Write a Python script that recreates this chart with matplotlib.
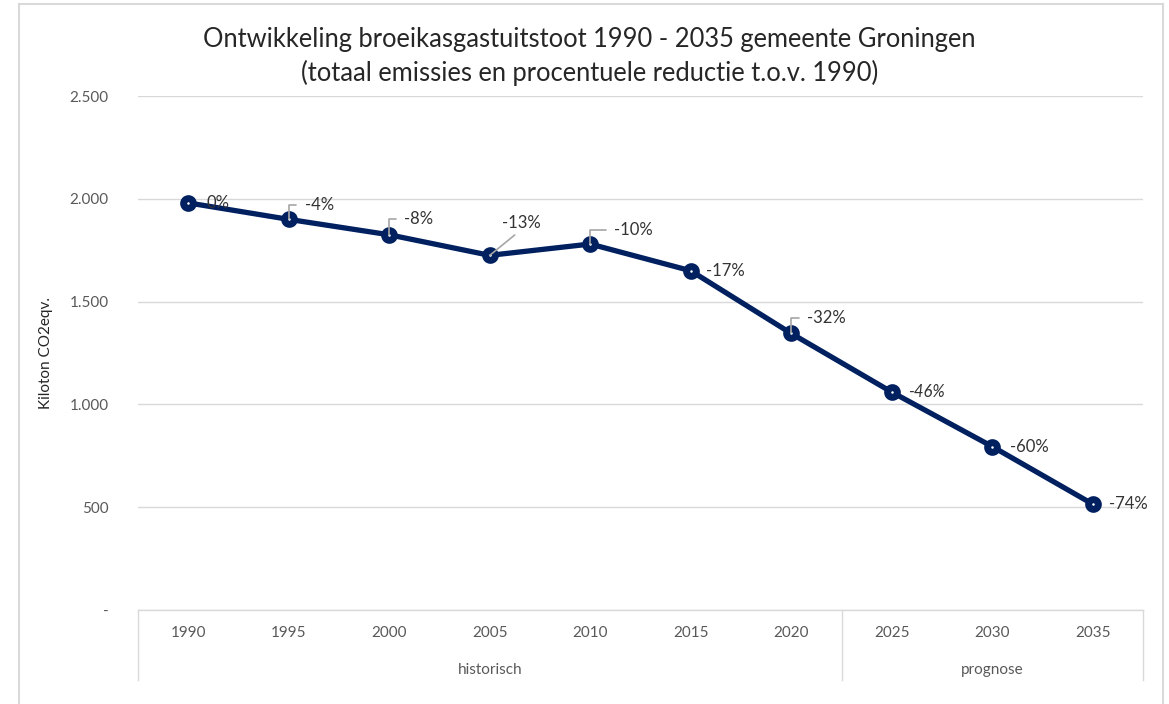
import numpy as np
import matplotlib.pyplot as plt
from matplotlib.lines import Line2D

plt.rcParams['font.family'] = ['Lato', 'DejaVu Sans']
plt.rcParams['font.size'] = 11

# data
years = ["1990", "1995", "2000", "2005", "2010", "2015", "2020", "2025", "2030", "2035"]
emissions = [1980, 1900, 1825, 1725, 1780, 1650, 1345, 1060, 795, 515]
labels = ["0%", "-4%", "-8%", "-13%", "-10%", "-17%", "-32%", "-46%", "-60%", "-74%"]
groups = ["historisch", "prognose"]
group_sizes = [7, 3]
yticks = [0, 500, 1000, 1500, 2000, 2500]
ytick_labels = ["-", "500", "1.000", "1.500", "2.000", "2.500"]

navy = "#002060"
grid = "#D9D9D9"
txt = "#595959"

fig = plt.figure(figsize=(11.69, 7.04), dpi=100)
ax = fig.add_axes([138/1169, 1 - 610/704, (1143-138)/1169, (610-96)/704])

x = np.arange(len(years))
ax.plot(x, emissions, color=navy, lw=3.8, marker='o', ms=7, mew=5,
        mfc='white', mec=navy, zorder=3, solid_joinstyle='round')

ax.set_xlim(-0.5, len(years) - 0.5)
ax.set_ylim(0, 2500)
ax.set_yticks(yticks)
ax.set_yticklabels(ytick_labels, color=txt, fontsize=11)
ax.tick_params(axis='y', length=0, pad=21)
ax.set_xticks([])
ax.grid(axis='y', color=grid, lw=1)
ax.set_axisbelow(True)
for s in ['top', 'right', 'left']:
    ax.spines[s].set_visible(False)
ax.spines['bottom'].set_color(grid)
ax.spines['bottom'].set_linewidth(1)
ax.set_ylabel("Kiloton CO2eqv.", fontsize=11, color="#262626", labelpad=12)

# data labels (offsets in pixels, some with leader lines)
offsets = [(18, 0), (16, 14), (15, 16), (12, 32), (24, 14), (15, 0), (16, 15), (16, 0), (18, 0), (16, 0)]
leaders = [False, True, True, True, True, False, True, False, False, False]
for i, (lab, (dx, dy), lead) in enumerate(zip(labels, offsets, leaders)):
    style = 'italic' if lab == "-46%" else 'normal'
    arrow = None
    if lead:
        if lab == "-13%":
            arrow = dict(arrowstyle='-', color='#A6A6A6', lw=1.2, shrinkA=1, shrinkB=0,
                         relpos=(0.45, 0), connectionstyle="arc3")
        else:
            arrow = dict(arrowstyle='-', color='#A6A6A6', lw=1.2, shrinkA=4, shrinkB=0,
                         relpos=(0, 0.5), connectionstyle="angle,angleA=0,angleB=90,rad=0")
    ax.annotate(lab, xy=(x[i], emissions[i]), xytext=(dx, dy),
                textcoords='offset pixels', ha='left', va='center',
                fontsize=12, color='#333333', style=style, arrowprops=arrow, zorder=4)

# multi-level category axis
trans = ax.get_xaxis_transform()
for i, yr in enumerate(years):
    ax.text(x[i], -23/514, yr, transform=trans, ha='center', va='center',
            fontsize=11, color=txt)
start = 0
bounds = [-0.5]
for g, n in zip(groups, group_sizes):
    ax.text(start + (n - 1) / 2, -60/514, g, transform=trans, ha='center', va='center',
            fontsize=11, color=txt)
    start += n
    bounds.append(start - 0.5)
for b in bounds:
    ax.add_line(Line2D([b, b], [0, -70/514], transform=trans, color=grid, lw=1,
                       clip_on=False))

# title
fig.text(0.504, 1 - 40/704, "Ontwikkeling broeikasgastuitstoot 1990 - 2035 gemeente Groningen",
         ha='center', va='center', fontsize=18.4, color='#262626')
fig.text(0.504, 1 - 73/704, "(totaal emissies en procentuele reductie t.o.v. 1990)",
         ha='center', va='center', fontsize=18.4, color='#262626')

# chart frame
for xs, ys in [([19/1169, 19/1169], [0, 1 - 4/704]),
               ([1163/1169, 1163/1169], [0, 1 - 4/704]),
               ([19/1169, 1163/1169], [1 - 4/704, 1 - 4/704])]:
    fig.add_artist(Line2D(xs, ys, color=grid, lw=1.5))

fig.savefig("out.png", dpi=100)
